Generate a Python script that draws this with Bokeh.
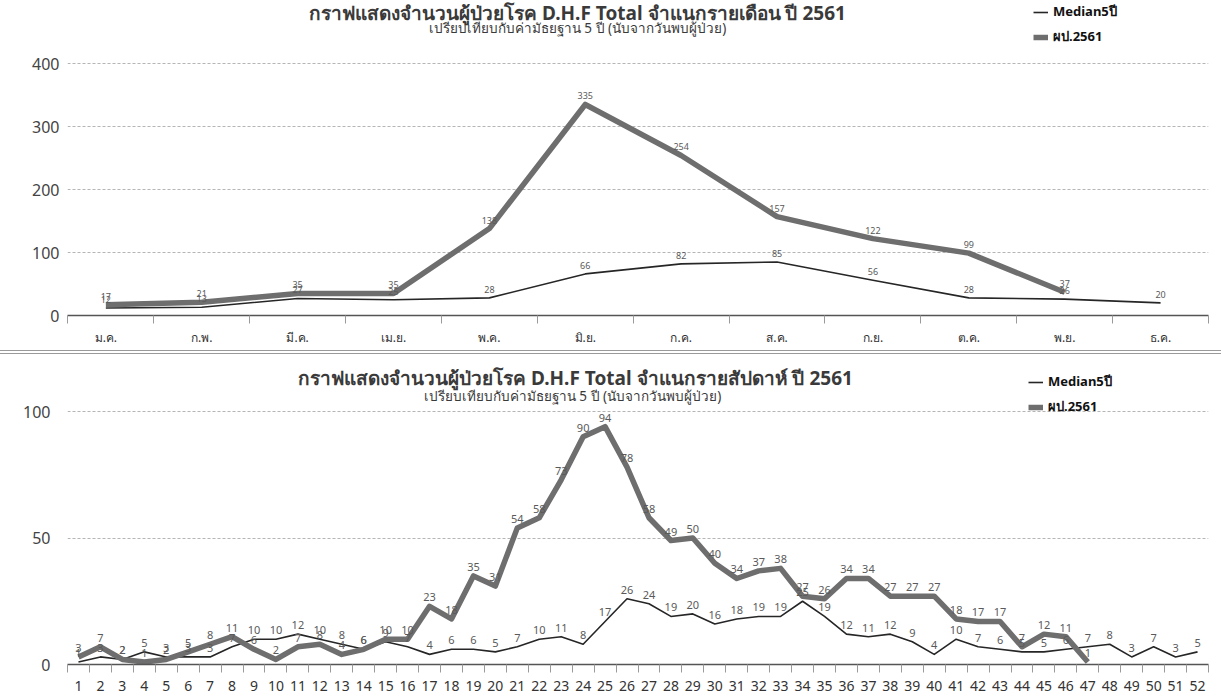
import math
from bokeh.plotting import figure
from bokeh.models import (ColumnDataSource, FixedTicker, Legend, LegendItem, Label,
                          Div, Range1d)
from bokeh.layouts import column
from bokeh.core.properties import value
from bokeh.embed import file_html
from bokeh.resources import INLINE

FONT = "Noto Sans"

# ---------------- data ----------------
months = ["ม.ค.", "ก.พ.", "มี.ค.", "เม.ย.", "พ.ค.", "มิ.ย.",
          "ก.ค.", "ส.ค.", "ก.ย.", "ต.ค.", "พ.ย.", "ธ.ค."]
month_median = [12, 13, 27, 25, 28, 66, 82, 85, 56, 28, 26, 20]
month_cases = [17, 21, 35, 35, 138, 335, 254, 157, 122, 99, 37, None]

weeks = [str(w) for w in range(1, 53)]
week_median = [1, 3, 2, 5, 3, 3, 3, 7, 10, 10, 12, 10, 8, 6, 9, 7,
               4, 6, 6, 5, 7, 10, 11, 8, 17, 26, 24, 19, 20, 16, 18, 19,
               19, 25, 19, 12, 11, 12, 9, 4, 10, 7, 6, 5, 5, 6, 7, 8,
               3, 7, 3, 5]
week_cases = [3, 7, 2, 1, 2, 5, 8, 11, 6, 2, 7, 8, 4, 6, 10, 10,
              23, 18, 35, 31, 54, 58, 73, 90, 94, 78, 58, 49, 50, 40, 34, 37,
              38, 27, 26, 34, 34, 27, 27, 27, 18, 17, 17, 7, 12, 11, 1,
              None, None, None, None, None]

titles_month = ("กราฟแสดงจำนวนผู้ป่วยโรค D.H.F Total จำแนกรายเดือน ปี 2561",
                "เปรียบเทียบกับค่ามัธยฐาน 5 ปี (นับจากวันพบผู้ป่วย)")
titles_week = ("กราฟแสดงจำนวนผู้ป่วยโรค D.H.F Total จำแนกรายสัปดาห์ ปี 2561",
               "เปรียบเทียบกับค่ามัธยฐาน 5 ปี (นับจากวันพบผู้ป่วย)")
legend_labels = ["Median5ปี", "ผป.2561"]

CASE_COLOR = "#6e6e6e"
MED_COLOR = "#262626"


def build(cats, median, cases, titles, yticks, cfg):
    n = len(cats)
    x0 = cfg["xstart"]
    x1 = n - 0.5
    p = figure(width=1221, height=cfg["H"], output_backend="svg", toolbar_location=None,
               x_range=Range1d(x0, x1), y_range=Range1d(0, cfg["yend"]),
               min_border_left=cfg["bl"], min_border_right=cfg["br"],
               min_border_top=0, min_border_bottom=cfg["bb"])
    p.outline_line_color = None
    xs = list(range(n))
    med_src = ColumnDataSource(dict(x=xs, y=median, t=[str(v) for v in median]))
    cy = [float("nan") if v is None else v for v in cases]
    case_src = ColumnDataSource(dict(x=xs, y=cy))
    cl_x = [i for i, v in enumerate(cases) if v is not None]
    cl_y = [v for v in cases if v is not None]
    case_lab = ColumnDataSource(dict(x=cl_x, y=cl_y, t=[str(v) for v in cl_y]))

    r_med = p.line("x", "y", source=med_src, line_color=MED_COLOR, line_width=1.6,
                   line_join="round")
    r_case = p.line("x", "y", source=case_src, line_color=CASE_COLOR, line_width=5.5,
                    line_join="round")

    for src in (med_src, case_lab):
        p.text("x", "y", text="t", source=src, text_align="center", text_baseline="bottom",
               y_offset=-5, text_font=value(FONT), text_font_size=cfg["dl_size"],
               text_color="#5a5a5a")

    # axes
    minor = sorted(set([x0] + [i - 0.5 for i in range(1, n)] + [x1]))
    p.xaxis.ticker = FixedTicker(ticks=xs, minor_ticks=minor)
    p.xaxis.major_label_overrides = {i: c for i, c in enumerate(cats)}
    p.xaxis.major_tick_line_color = None
    p.xaxis.major_tick_out = 0
    p.xaxis.minor_tick_line_color = "#9a9a9a"
    p.xaxis.minor_tick_out = 8
    p.xaxis.minor_tick_in = 0
    p.xaxis.axis_line_color = "#555555"
    p.xaxis.axis_line_width = 1.5
    p.xaxis.major_label_text_font = FONT
    p.xaxis.major_label_text_font_size = cfg["xl_size"]
    p.xaxis.major_label_text_color = "#333333"
    p.xaxis.major_label_standoff = cfg["xstand"]
    p.xgrid.grid_line_color = None

    p.yaxis.ticker = FixedTicker(ticks=yticks)
    p.yaxis.axis_line_color = None
    p.yaxis.major_tick_line_color = None
    p.yaxis.minor_tick_line_color = None
    p.yaxis.major_tick_out = 0
    p.yaxis.major_label_standoff = cfg["ystand"]
    p.yaxis.major_label_text_font = FONT
    p.yaxis.major_label_text_font_size = "16px"
    p.yaxis.major_label_text_color = "#444444"
    p.ygrid.ticker = FixedTicker(ticks=yticks)
    p.ygrid.grid_line_color = "#b5b5b5"
    p.ygrid.grid_line_dash = "3 2"
    p.ygrid.grid_line_width = 1

    # titles
    p.add_layout(Label(x=cfg["tx"], y=cfg["ty"], x_units="screen", y_units="screen",
                       text=titles[0], text_align="center", text_baseline="middle",
                       text_font=FONT, text_font_size="19px", text_font_style="bold",
                       text_color="#3a3a3a"))
    p.add_layout(Label(x=cfg["sx"], y=cfg["sy"], x_units="screen", y_units="screen",
                       text=titles[1], text_align="center", text_baseline="middle",
                       text_font=FONT, text_font_size="13.5px", text_color="#3a3a3a"))

    leg = Legend(items=[LegendItem(label=legend_labels[0], renderers=[r_med]),
                        LegendItem(label=legend_labels[1], renderers=[r_case])],
                 location=cfg["legloc"])
    leg.background_fill_alpha = 0
    leg.border_line_color = None
    leg.padding = 0
    leg.margin = 0
    leg.spacing = 4
    leg.label_height = 20
    leg.glyph_height = 20
    leg.glyph_width = 15
    leg.label_standoff = 5
    leg.label_text_font = FONT
    leg.label_text_font_size = "13px"
    leg.label_text_font_style = "bold"
    leg.label_text_color = "#111111"
    p.add_layout(leg)
    return p


# top: frame page x 60..1208, y 0..315 ; bottom: frame x 67..1211, y 354..664
top_cfg = dict(H=350, yend=315 / 0.63, bl=60, br=13, bb=35, dl_size="9px",
               xl_size="12px", xstand=5, ystand=8, xstart=-0.4,
               tx=510, ty=303, sx=510, sy=288, legloc=(966, 268))
bot_cfg = dict(H=342, yend=310 / 2.53, bl=67, br=10, bb=32, dl_size="11px",
               xl_size="14px", xstand=8, ystand=17, xstart=-0.5,
               tx=508, ty=287, sx=505, sy=269, legloc=(961, 247))

p1 = build(months, month_median, month_cases, titles_month, [0, 100, 200, 300, 400], top_cfg)
p2 = build(weeks, week_median, week_cases, titles_week, [0, 50, 100], bot_cfg)

sep = Div(text="", width=1221, height=4, margin=0,
          styles={"border-top": "1px solid #9a9a9a", "border-bottom": "1px solid #9a9a9a",
                  "box-sizing": "border-box"})

layout = column(p1, sep, p2, spacing=0)
open("out.html", "w").write(file_html(layout, INLINE))
